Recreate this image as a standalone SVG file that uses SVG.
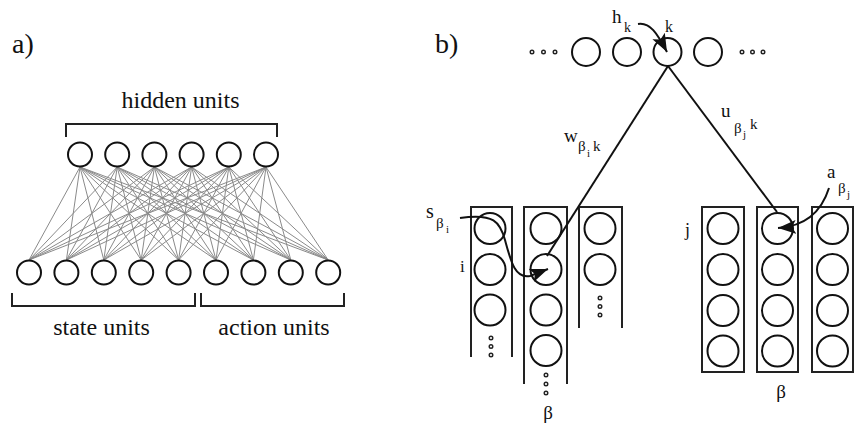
<svg xmlns="http://www.w3.org/2000/svg" width="854" height="432" viewBox="0 0 854 432" font-family="'Liberation Serif', 'DejaVu Serif', 'Times New Roman', serif">
<style>
text{font-family:'Liberation Serif','DejaVu Serif','Times New Roman',serif;fill:#111}
.u{fill:#fff;stroke:#111;stroke-width:2}
.br{fill:none;stroke:#222;stroke-width:2}
.col{fill:none;stroke:#222;stroke-width:2}
.dot{fill:none;stroke:#222;stroke-width:1.4}
.w{stroke:#111;stroke-width:2;fill:none}
.lbl{font-size:24px}
</style>
<defs>
<marker id="ah" markerUnits="userSpaceOnUse" markerWidth="20" markerHeight="16" refX="18" refY="8" orient="auto">
<path d="M0,1 L18,8 L0,15 L4,8 z" fill="#111"/>
</marker>
</defs>
<rect width="854" height="432" fill="#fff"/>

<!-- panel a -->
<text x="12" y="53" font-size="28">a)</text>
<text class="lbl" x="180.5" y="108" text-anchor="middle">hidden units</text>
<path class="br" d="M66,137 V124 H277 V137"/>
<path class="br" d="M12,293 V306 H195 V293"/>
<path class="br" d="M201,293 V306 H344 V293"/>
<text class="lbl" x="101.5" y="335" text-anchor="middle">state units</text>
<text class="lbl" x="274" y="335" text-anchor="middle">action units</text>

<g id="connectors-a" stroke="#8a8a8a" stroke-width="1" fill="none">
<path d="M80 167L29 260M80 167L66.4 260M80 167L103.8 260M80 167L141.2 260M80 167L178.6 260M80 167L216 260M80 167L253.4 260M80 167L290.8 260M80 167L328.2 260
M117.2 167L29 260M117.2 167L66.4 260M117.2 167L103.8 260M117.2 167L141.2 260M117.2 167L178.6 260M117.2 167L216 260M117.2 167L253.4 260M117.2 167L290.8 260M117.2 167L328.2 260
M154.4 167L29 260M154.4 167L66.4 260M154.4 167L103.8 260M154.4 167L141.2 260M154.4 167L178.6 260M154.4 167L216 260M154.4 167L253.4 260M154.4 167L290.8 260M154.4 167L328.2 260
M191.6 167L29 260M191.6 167L66.4 260M191.6 167L103.8 260M191.6 167L141.2 260M191.6 167L178.6 260M191.6 167L216 260M191.6 167L253.4 260M191.6 167L290.8 260M191.6 167L328.2 260
M228.8 167L29 260M228.8 167L66.4 260M228.8 167L103.8 260M228.8 167L141.2 260M228.8 167L178.6 260M228.8 167L216 260M228.8 167L253.4 260M228.8 167L290.8 260M228.8 167L328.2 260
M266 167L29 260M266 167L66.4 260M266 167L103.8 260M266 167L141.2 260M266 167L178.6 260M266 167L216 260M266 167L253.4 260M266 167L290.8 260M266 167L328.2 260"/>
</g>

<g id="hidden-units">
<circle id="h1" class="u" cx="80" cy="154.5" r="12"/>
<circle id="h2" class="u" cx="117.2" cy="154.5" r="12"/>
<circle id="h3" class="u" cx="154.4" cy="154.5" r="12"/>
<circle id="h4" class="u" cx="191.6" cy="154.5" r="12"/>
<circle id="h5" class="u" cx="228.8" cy="154.5" r="12"/>
<circle id="h6" class="u" cx="266" cy="154.5" r="12"/>
</g>
<g id="state-units">
<circle id="s1" class="u" cx="29" cy="272.5" r="12"/>
<circle id="s2" class="u" cx="66.4" cy="272.5" r="12"/>
<circle id="s3" class="u" cx="103.8" cy="272.5" r="12"/>
<circle id="s4" class="u" cx="141.2" cy="272.5" r="12"/>
<circle id="s5" class="u" cx="178.6" cy="272.5" r="12"/>
</g>
<g id="action-units">
<circle id="a1" class="u" cx="216" cy="272.5" r="12"/>
<circle id="a2" class="u" cx="253.4" cy="272.5" r="12"/>
<circle id="a3" class="u" cx="290.8" cy="272.5" r="12"/>
<circle id="a4" class="u" cx="328.2" cy="272.5" r="12"/>
</g>

<!-- panel b -->
<text x="435" y="53" font-size="28">b)</text>

<g id="top-row">
<circle class="dot" cx="532" cy="52" r="1.8"/><circle class="dot" cx="543.5" cy="52" r="1.8"/><circle class="dot" cx="555" cy="52" r="1.8"/>
<circle id="t1" class="u" cx="586" cy="52" r="14"/>
<circle id="t2" class="u" cx="627" cy="52" r="14"/>
<circle id="t3" class="u" cx="667.5" cy="52" r="14"/>
<circle id="t4" class="u" cx="708" cy="52" r="14"/>
<circle class="dot" cx="742" cy="52" r="1.8"/><circle class="dot" cx="752.5" cy="52" r="1.8"/><circle class="dot" cx="763" cy="52" r="1.8"/>
</g>

<g id="left-columns">
<g id="lcol1">
<path class="col" d="M471,357 V207 H512 V357"/>
<circle class="u" cx="490" cy="228.5" r="15.5"/>
<circle class="u" cx="490" cy="269.5" r="15.5"/>
<circle class="u" cx="490" cy="310" r="15.5"/>
<circle class="dot" cx="491" cy="338" r="1.8"/><circle class="dot" cx="491" cy="346.5" r="1.8"/><circle class="dot" cx="491" cy="355" r="1.8"/>
</g>
<g id="lcol2">
<path class="col" d="M524,384 V207 H567 V384"/>
<circle class="u" cx="546" cy="228.5" r="15.5"/>
<circle class="u" cx="546" cy="269.5" r="15.5"/>
<circle class="u" cx="546" cy="310" r="15.5"/>
<circle class="u" cx="546" cy="350.5" r="15.5"/>
<circle class="dot" cx="546" cy="375" r="1.8"/><circle class="dot" cx="546" cy="384" r="1.8"/><circle class="dot" cx="546" cy="393" r="1.8"/>
</g>
<g id="lcol3">
<path class="col" d="M579,328 V207 H622 V328"/>
<circle class="u" cx="600" cy="228.5" r="15.5"/>
<circle class="u" cx="600" cy="269.5" r="15.5"/>
<circle class="dot" cx="600" cy="298" r="1.8"/><circle class="dot" cx="600" cy="306.5" r="1.8"/><circle class="dot" cx="600" cy="315" r="1.8"/>
</g>
</g>

<g id="right-columns">
<g id="rcol1">
<rect class="col" x="702" y="207" width="42" height="165"/>
<circle class="u" cx="723" cy="228.5" r="15.5"/>
<circle class="u" cx="723" cy="269.5" r="15.5"/>
<circle class="u" cx="723" cy="310.5" r="15.5"/>
<circle class="u" cx="723" cy="351" r="15.5"/>
</g>
<g id="rcol2">
<rect class="col" x="757" y="207" width="41" height="165"/>
<circle class="u" cx="777.5" cy="228.5" r="15.5"/>
<circle class="u" cx="777.5" cy="269.5" r="15.5"/>
<circle class="u" cx="777.5" cy="310.5" r="15.5"/>
<circle class="u" cx="777.5" cy="351" r="15.5"/>
</g>
<g id="rcol3">
<rect class="col" x="812" y="207" width="41" height="165"/>
<circle class="u" cx="832.5" cy="228.5" r="15.5"/>
<circle class="u" cx="832.5" cy="269.5" r="15.5"/>
<circle class="u" cx="832.5" cy="310.5" r="15.5"/>
<circle class="u" cx="832.5" cy="351" r="15.5"/>
</g>
</g>

<g id="connectors-b">
<path class="w" d="M668,66 L547,256"/>
<path class="w" d="M668,66 L777,212"/>
<path class="w" d="M638,24 C650,22 657,33 667,52" marker-end="url(#ah)"/>
<path class="w" d="M460,218 C494,213 500,222 505,240 C511,262 515,279 530,276 L548,269" marker-end="url(#ah)"/>
<path class="w" d="M829,188 C823,207 810,226 778,228" marker-end="url(#ah)"/>
</g>

<g id="labels-b">
<text x="612" y="23" font-size="19">h</text>
<text x="624" y="32" font-size="14">k</text>
<text x="665" y="32" font-size="16">k</text>
<text x="564" y="142" font-size="19">w</text>
<text x="578" y="151" font-size="15">β</text>
<text x="587" y="157" font-size="11">i</text>
<text x="593" y="151" font-size="15">k</text>
<text x="721" y="117" font-size="19">u</text>
<text x="734" y="133" font-size="15">β</text>
<text x="743" y="138" font-size="11">j</text>
<text x="750" y="129" font-size="15">k</text>
<text x="827" y="178" font-size="19">a</text>
<text x="838" y="193" font-size="15">β</text>
<text x="847" y="198" font-size="11">j</text>
<text x="426" y="218" font-size="20">s</text>
<text x="436" y="228" font-size="15">β</text>
<text x="446" y="233" font-size="11">i</text>
<text x="460" y="272" font-size="17">i</text>
<text x="685" y="236" font-size="18">j</text>
<text x="548" y="419" font-size="19" text-anchor="middle">β</text>
<text x="781" y="398" font-size="19" text-anchor="middle">β</text>
</g>
</svg>
